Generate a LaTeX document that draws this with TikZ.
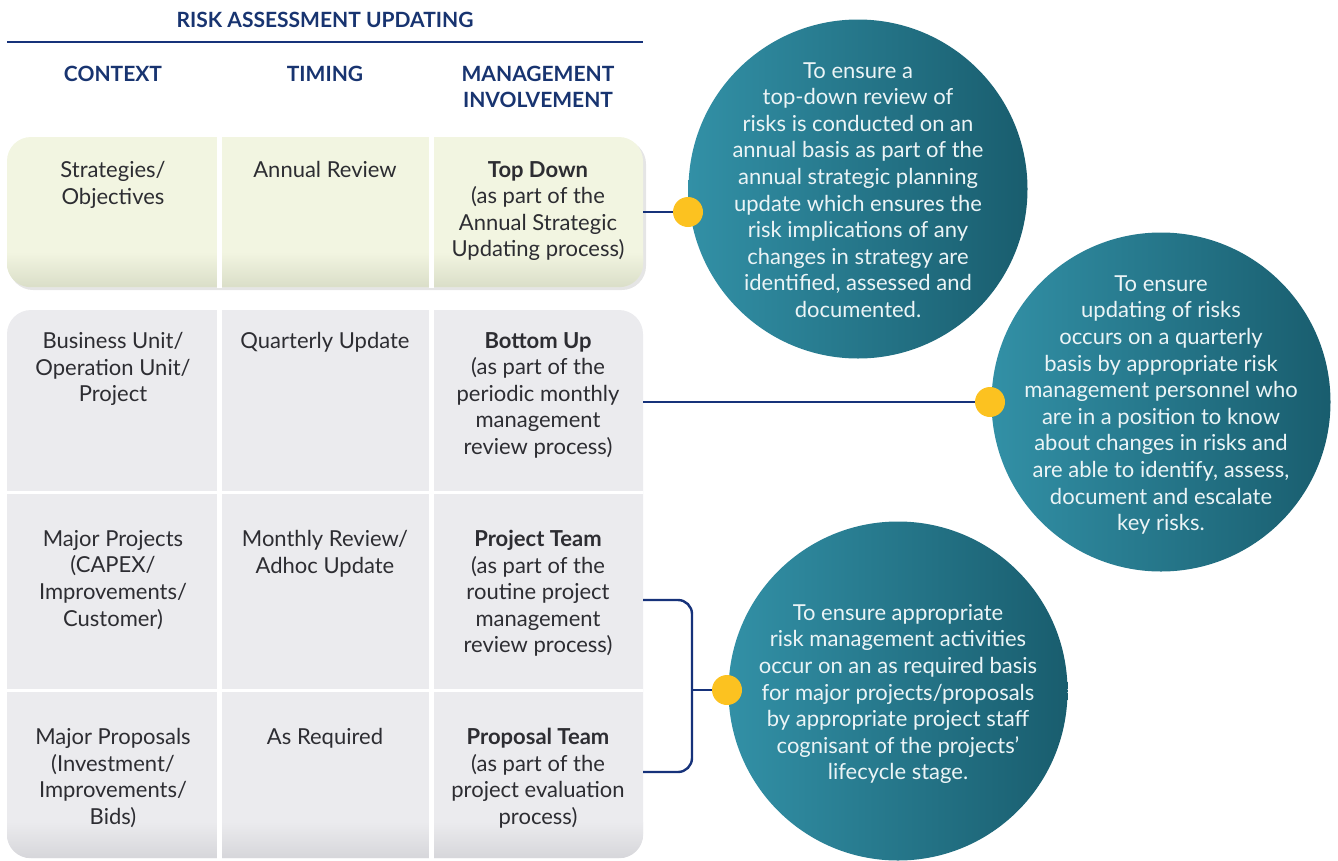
\documentclass[tikz,border=0pt]{standalone}
\usepackage{fontspec}
\setmainfont{Lato}
\usetikzlibrary{positioning}
\definecolor{navy}{RGB}{24,52,112}
\definecolor{linenavy}{RGB}{22,50,122}
\definecolor{paleyel}{RGB}{242,245,225}
\definecolor{paleyeldk}{RGB}{218,222,200}
\definecolor{palegrey}{RGB}{235,235,238}
\definecolor{palegreydk}{RGB}{214,214,218}
\definecolor{tealL}{RGB}{50,144,166}
\definecolor{tealD}{RGB}{25,93,110}
\definecolor{dotyel}{RGB}{252,194,32}
\definecolor{bodytext}{RGB}{45,45,50}
\tikzset{hdr/.style={font=\bfseries\fontsize{21}{26}\selectfont, text=navy, align=center, inner sep=0pt},
         celltxt/.style={font=\fontsize{22}{26.6}\selectfont, text=bodytext, align=center, anchor=north, inner sep=0pt},
         panel/.style={rectangle, rounded corners=24pt, minimum width=636pt, inner sep=0pt},
         note/.style={circle, minimum size=339pt, inner sep=0pt, left color=tealL, right color=tealD},
         notetxt/.style={font=\fontsize{22}{26.6}\selectfont, text=white!90!tealL, align=center, inner sep=0pt},
         joint/.style={circle, fill=dotyel, minimum size=30pt, inner sep=0pt},
         link/.style={draw=linenavy, line width=2.4pt},
         colsep/.style={white, line width=5pt}}

\begin{document}
\begin{tikzpicture}[x=1pt, y=-1pt]
  \useasboundingbox (0,0) rectangle (1338,860);
  % heading
  \node[hdr] (title) at (325,20) {RISK ASSESSMENT UPDATING};
  \draw[linenavy, line width=1.5pt] (7,42) -- (643,42);
  \node[hdr] (hctx) at (113,74) {CONTEXT};
  \node[hdr] (htim) at (325,74) {TIMING};
  \node[hdr] (hinv) at (538,87) {MANAGEMENT\\INVOLVEMENT};

  % panels
  \fill[black!10, rounded corners=24pt] (9,140) rectangle (646,290);
  \node[panel, fill=paleyel, minimum height=150pt] (toppanel) at (325,212) {};
  \begin{scope}
    \path[clip, rounded corners=24pt] (toppanel.south west) rectangle (toppanel.north east);
    \shade[top color=paleyel, bottom color=paleyeldk] (7,252) rectangle (643,287);
  \end{scope}
  \node[panel, fill=palegrey, minimum height=548pt] (botpanel) at (325,584) {};
  \begin{scope}
    \path[clip, rounded corners=24pt] (botpanel.south west) rectangle (botpanel.north east);
    \shade[top color=palegrey, bottom color=palegreydk] (7,822) rectangle (643,858);
  \end{scope}
  \foreach \x in {219,431} {
    \draw[colsep] (\x,136) -- (\x,288);
    \draw[colsep] (\x,309) -- (\x,860);
  }
  \foreach \y in {492,690}
    \draw[colsep, line width=3pt] (7,\y) -- (643,\y);

  % cells
  \node[celltxt] (ctx1) at (113,161) {Strategies/\\Objectives};
  \node[celltxt] (tim1) at (325,161) {Annual Review};
  \node[celltxt] (inv1) at (538,161) {\textbf{Top Down}\\(as part of the\\Annual Strategic\\Updating process)};
  \node[celltxt] (ctx2) at (113,332) {Business Unit/\\Operation Unit/\\Project};
  \node[celltxt] (tim2) at (325,332) {Quarterly Update};
  \node[celltxt] (inv2) at (538,332) {\textbf{Bottom Up}\\(as part of the\\periodic monthly\\management\\review process)};
  \node[celltxt] (ctx3) at (113,530) {Major Projects\\(CAPEX/\\Improvements/\\Customer)};
  \node[celltxt] (tim3) at (325,530) {Monthly Review/\\Adhoc Update};
  \node[celltxt] (inv3) at (538,530) {\textbf{Project Team}\\(as part of the\\routine project\\management\\review process)};
  \node[celltxt] (ctx4) at (113,728) {Major Proposals\\(Investment/\\Improvements/\\Bids)};
  \node[celltxt] (tim4) at (325,728) {As Required};
  \node[celltxt] (inv4) at (538,728) {\textbf{Proposal Team}\\(as part of the\\project evaluation\\process)};

  % notes
  \node[note] (note1) at (858,189) {};
  \node[notetxt, yshift=-1pt] at (note1) {To ensure a\\top-down review of\\risks is conducted on an\\annual basis as part of the\\annual strategic planning\\update which ensures the\\risk implications of any\\changes in strategy are\\identified, assessed and\\documented.};
  \node[note] (note2) at (1161,402) {};
  \node[notetxt, yshift=-3pt] at (note2) {To ensure\\updating of risks\\occurs on a quarterly\\basis by appropriate risk\\management personnel who\\are in a position to know\\about changes in risks and\\are able to identify, assess,\\document and escalate\\key risks.};
  \node[note] (note3) at (898,691) {};
  \node[notetxt, yshift=-3pt] at (note3) {To ensure appropriate\\risk management activities\\occur on an as required basis\\for major projects/proposals\\by appropriate project staff\\cognisant of the projects’\\lifecycle stage.};

  % connectors
  \node[joint] (dot1) at (688,212) {};
  \node[joint] (dot2) at (990,402) {};
  \node[joint] (dot3) at (727,690) {};
  \coordinate (brtop) at (botpanel.east |- 0,600);
  \coordinate (brbot) at (botpanel.east |- 0,772);
  \coordinate (brmid) at (692,690);
  \draw[link] (toppanel.east |- dot1) -- (dot1);
  \draw[link] (botpanel.east |- dot2) -- (dot2);
  \draw[link, rounded corners=14pt] (brtop) -- (brtop -| brmid) -- (brbot -| brmid) -- (brbot);
  \draw[link] (brmid) -- (dot3);
\end{tikzpicture}
\end{document}
